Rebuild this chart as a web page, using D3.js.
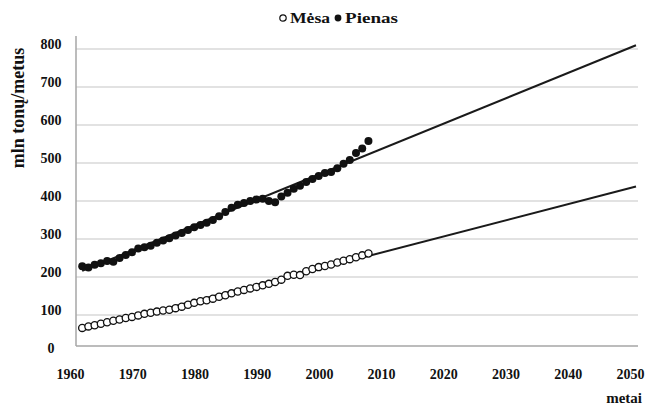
<!DOCTYPE html>
<html>
<head>
<meta charset="utf-8">
<script src="https://cdn.jsdelivr.net/npm/d3@7"></script>
<style>
  html, body { margin: 0; padding: 0; background: #fff; }
  svg { display: block; font-family: "Liberation Serif", "DejaVu Serif", serif; font-weight: bold; }
</style>
</head>
<body>
<svg id="chart" width="648" height="405"></svg>
<script>
// Annual world production, million tonnes
const years = [1961,1962,1963,1964,1965,1966,1967,1968,1969,1970,
               1971,1972,1973,1974,1975,1976,1977,1978,1979,1980,
               1981,1982,1983,1984,1985,1986,1987,1988,1989,1990,
               1991,1992,1993,1994,1995,1996,1997,1998,1999,2000,
               2001,2002,2003,2004,2005,2006,2007];
const meat = [66,70,73,77,81,85,88,92,95,99,
              103,106,109,112,114,118,122,127,132,136,
              139,143,148,152,157,162,166,170,174,178,
              182,187,193,203,206,205,215,221,226,229,
              233,238,243,247,252,257,262];
const milk = [228,225,232,236,242,240,250,258,265,275,
              278,282,290,296,302,309,316,324,331,337,
              343,350,360,371,382,390,395,400,404,406,
              400,397,412,422,432,440,450,458,466,474,
              476,486,498,508,526,538,558];

// Linear trends extended to 2050
const trendYears = [1961, 2050];
const meatTrend = [60, 438];
const milkTrend = [216, 810];

const xTicks = [1960,1970,1980,1990,2000,2010,2020,2030,2040,2050];
const yTicks = [0,100,200,300,400,500,600,700,800];
const seriesNames = ["Mėsa", "Pienas"];

(function draw() {
  const svg = d3.select("#chart");
  const plotLeft = 76, plotRight = 638, plotTop = 36, plotBottom = 346;

  const x = d3.scaleLinear().domain([1960, 2050]).range([plotLeft, 636]);
  const y = d3.scaleLinear().domain([0, 800]).range([353, 49]);

  // horizontal gridlines
  svg.append("g").selectAll("line")
    .data(yTicks.filter(d => d > 0))
    .join("line")
    .attr("x1", plotLeft).attr("x2", plotRight)
    .attr("y1", d => y(d)).attr("y2", d => y(d))
    .attr("stroke", "#d9d9d9").attr("stroke-width", 1.5);

  // axis frame
  svg.append("line").attr("x1", plotLeft).attr("x2", plotLeft).attr("y1", plotTop).attr("y2", plotBottom)
    .attr("stroke", "#a6a6a6").attr("stroke-width", 1.5);
  svg.append("line").attr("x1", plotLeft).attr("x2", plotRight).attr("y1", plotBottom).attr("y2", plotBottom)
    .attr("stroke", "#a6a6a6").attr("stroke-width", 1.5);

  // y tick labels
  svg.append("g").selectAll("text")
    .data(yTicks)
    .join("text")
    .attr("x", 51).attr("y", d => y(d))
    .attr("text-anchor", "middle")
    .attr("font-size", 14)
    .attr("fill", "#111")
    .text(d => d);

  // x tick labels
  const xAxis = d3.axisBottom(x).tickValues(xTicks).tickSize(0).tickFormat(d3.format("d"));
  const gx = svg.append("g").attr("transform", `translate(0,${plotBottom})`).call(xAxis);
  gx.select(".domain").remove();
  gx.selectAll("text")
    .attr("dx", -6).attr("dy", 0).attr("y", 33)
    .attr("font-size", 14)
    .attr("font-family", "Liberation Serif, serif")
    .attr("font-weight", "bold")
    .attr("fill", "#111");

  // axis titles
  svg.append("text")
    .attr("transform", "translate(24,108) rotate(-90)")
    .attr("text-anchor", "middle")
    .attr("font-size", 18)
    .attr("fill", "#111")
    .text("mln tonų/metus");
  svg.append("text")
    .attr("x", 642).attr("y", 403)
    .attr("text-anchor", "end")
    .attr("font-size", 15)
    .attr("fill", "#111")
    .text("metai");

  // trend lines
  const line = d3.line().x(d => x(d[0])).y(d => y(d[1]));
  [meatTrend, milkTrend].forEach(t => {
    svg.append("path")
      .attr("d", line(trendYears.map((yr, i) => [yr, t[i]])))
      .attr("fill", "none")
      .attr("stroke", "#1a1a1a")
      .attr("stroke-width", 2);
  });

  // meat: open circles
  svg.append("g").selectAll("circle")
    .data(years.map((yr, i) => [yr, meat[i]]))
    .join("circle")
    .attr("cx", d => x(d[0])).attr("cy", d => y(d[1])).attr("r", 3.6)
    .attr("fill", "#fff").attr("stroke", "#111").attr("stroke-width", 1.3);

  // milk: filled circles
  svg.append("g").selectAll("circle")
    .data(years.map((yr, i) => [yr, milk[i]]))
    .join("circle")
    .attr("cx", d => x(d[0])).attr("cy", d => y(d[1])).attr("r", 4)
    .attr("fill", "#111");

  // legend
  const lg = svg.append("g").attr("transform", "translate(0,18)");
  lg.append("circle").attr("cx", 283).attr("cy", 0).attr("r", 3.2)
    .attr("fill", "#fff").attr("stroke", "#111").attr("stroke-width", 1.2);
  lg.append("text").attr("x", 290).attr("y", 5).attr("font-size", 15)
    .attr("textLength", 40).attr("lengthAdjust", "spacingAndGlyphs")
    .attr("fill", "#111").text(seriesNames[0]);
  lg.append("circle").attr("cx", 338).attr("cy", 0).attr("r", 3.4).attr("fill", "#111");
  lg.append("text").attr("x", 345).attr("y", 5).attr("font-size", 15)
    .attr("textLength", 53).attr("lengthAdjust", "spacingAndGlyphs")
    .attr("fill", "#111").text(seriesNames[1]);
})();
</script>
</body>
</html>
